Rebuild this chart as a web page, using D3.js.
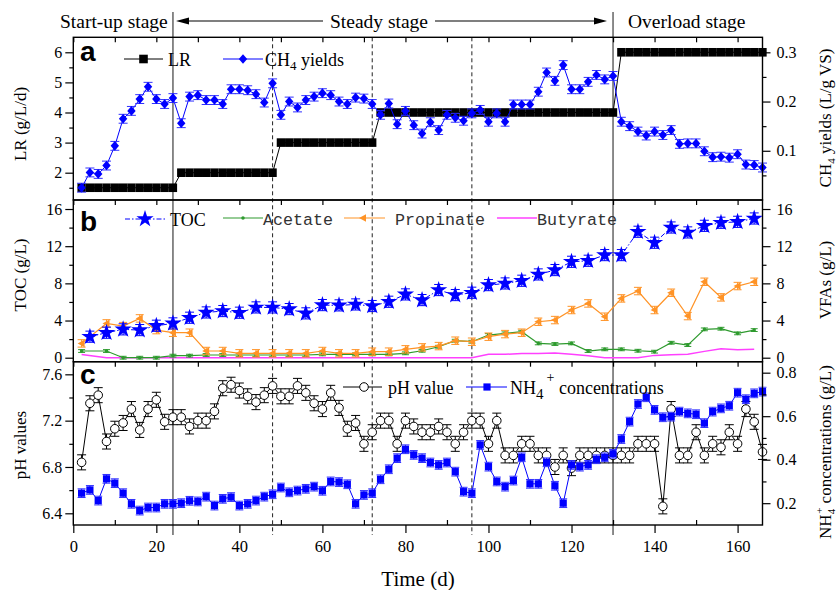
<!DOCTYPE html>
<html>
<head>
<meta charset="utf-8">
<script src="https://cdn.jsdelivr.net/npm/d3@7"></script>
<style>
  body { margin: 0; background: #fff; }
  svg { display: block; }
</style>
</head>
<body>
<svg id="chart" width="838" height="590"></svg>
<script>
// ---------- data ----------
// sampling days (every 2 days)
const sampleDays = d3.range(2, 167, 2);

// loading rate, g/L/d
const loadingRate = [
  1.5,1.5,1.5,1.5,1.5,1.5,1.5,1.5,1.5,1.5,1.5,1.5,
  2,2,2,2,2,2,2,2,2,2,2,2,
  3,3,3,3,3,3,3,3,3,3,3,3,
  4,4,4,4,4,4,4,4,4,4,4,4,4,4,4,4,4,4,4,4,4,4,4,4,4,4,4,4,4,
  6,6,6,6,6,6,6,6,6,6,6,6,6,6,6,6,6,6
];

// CH4 yields, L/g VS
const ch4Yield = [
  0.025,0.056,0.053,0.070,0.110,0.165,0.181,0.205,0.230,0.205,0.195,0.207,
  0.156,0.210,0.213,0.203,0.203,0.195,0.225,0.225,0.223,0.215,0.198,0.237,
  0.173,0.200,0.188,0.203,0.210,0.217,0.213,0.200,0.195,0.208,0.206,0.195,
  0.173,0.196,0.154,0.181,0.152,0.135,0.158,0.142,0.173,0.167,0.161,0.176,
  0.183,0.159,0.176,0.159,0.194,0.194,0.194,0.220,0.259,0.242,0.274,0.225,
  0.225,0.240,0.254,0.245,0.252,
  0.159,0.150,0.139,0.131,0.139,0.132,0.142,0.114,0.115,0.115,0.099,0.087,
  0.088,0.086,0.093,0.072,0.071,0.066
];
const ch4Err = 0.009;

// TOC, g/L (every 4 days)
const tocDays = d3.range(4, 165, 4);
const tocConc = [
  2.26,2.69,3.05,2.97,3.44,3.69,4.30,4.87,5.02,4.84,5.41,5.41,5.23,4.77,
  5.66,5.63,5.73,5.56,6.02,6.81,6.20,7.28,6.74,6.99,7.81,7.99,8.28,8.96,
  9.43,10.32,10.43,11.04,11.04,13.55,12.37,14.01,13.48,14.19,14.52,14.62,14.98
];
const tocErr = 0.6;

// VFAs, g/L
const vfaDays = [2].concat(d3.range(8, 165, 4));
const acetate = [
  0.72,0.72,0,0,0,0.22,0.22,0.29,0.29,0.29,0.29,0.29,0.29,0.29,
  0.36,0.36,0.36,0.36,0.36,0.47,0.75,1.18,1.83,1.72,2.44,2.62,2.80,1.54,
  1.47,1.54,0.72,0.90,0.90,0.75,0.65,1.61,1.36,3.05,3.12,2.62,2.97
];
const propionate = [
  1.54,3.69,3.40,4.23,2.97,2.69,2.69,0.72,0.72,0.47,0.47,0.47,0.47,0.47,
  0.72,0.47,0.47,0.65,0.65,0.90,1.11,1.25,1.83,1.72,2.26,2.54,2.69,3.87,
  4.05,5.13,5.84,4.41,6.38,7.17,5.13,6.99,4.48,8.17,6.49,7.71,8.17
];
const butyrate = [
  0.35,0,0,0,0,0,0,0,0,0,0,0,0,0,
  0,0,0,0,0,0,0,0,0,0,0.36,0.36,0.45,0.45,
  0.50,0.36,0.22,0,0,0,0.25,0.32,0.36,0.68,0.97,0.86,0.90
];
const acetateErr = 0.15, propionateErr = 0.4;

// pH
const phValue = [
  6.84,7.35,7.42,7.02,7.13,7.18,7.30,7.12,7.30,7.38,7.19,7.23,
  7.23,7.15,7.20,7.20,7.28,7.48,7.51,7.46,7.41,7.36,7.42,7.50,
  7.41,7.41,7.50,7.44,7.35,7.30,7.44,7.31,7.13,7.18,7.00,7.10,
  7.20,7.20,7.00,7.20,7.15,7.10,7.10,7.15,7.10,7.00,7.10,7.20,
  7.20,7.00,7.20,6.90,6.90,7.00,7.00,6.90,6.90,6.80,6.90,6.79,
  6.90,6.90,6.90,6.90,6.90,
  6.90,6.90,7.00,7.00,7.00,6.46,7.30,6.90,6.90,7.10,6.90,7.00,
  6.97,7.10,7.00,7.30,7.19,6.93
];
const phErr = 0.065;

// NH4+ concentrations, g/L
const nh4Conc = [
  0.246,0.261,0.212,0.312,0.292,0.246,0.197,0.166,0.180,0.180,0.197,0.197,
  0.200,0.211,0.208,0.230,0.189,0.220,0.228,0.189,0.197,0.212,0.230,0.241,
  0.272,0.250,0.258,0.266,0.276,0.257,0.300,0.297,0.287,0.197,0.238,0.246,
  0.310,0.356,0.407,0.448,0.422,0.407,0.387,0.376,0.387,0.345,0.253,0.246,
  0.468,0.368,0.300,0.276,0.304,0.411,0.289,0.289,0.388,0.280,0.200,0.376,
  0.368,0.376,0.402,0.411,0.427,
  0.495,0.575,0.656,0.687,0.629,0.595,0.598,0.621,0.613,0.609,0.568,0.621,
  0.636,0.648,0.708,0.678,0.705,0.713
];
const nh4Err = 0.02;

// stage boundaries (days)
const stageSolid = [24, 130];
const stageDashed = [48, 72, 96];

// tick values
const xMajor = [0, 20, 40, 60, 80, 100, 120, 140, 160];
const xMinor = [10, 30, 50, 70, 90, 110, 130, 150];
const xTop = d3.range(0, 161, 10);
const lrMajor = [2, 3, 4, 5, 6], lrMinor = [1.5, 2.5, 3.5, 4.5, 5.5];
const ch4Major = [0.1, 0.2, 0.3], ch4Minor = [0.05, 0.15, 0.25];
const concMajor = [0, 4, 8, 12, 16], concMinor = [2, 6, 10, 14];
const phMajor = [6.4, 6.8, 7.2, 7.6], phMinor = [6.6, 7.0, 7.4];
const nh4Major = [0.2, 0.4, 0.6, 0.8], nh4Minor = [0.3, 0.5, 0.7];

// ---------- setup ----------
const SERIF = "'Liberation Serif','Times New Roman',serif";
const SANS = "'Liberation Sans',Arial,sans-serif";
const MONO = "'Liberation Mono','Courier New',monospace";
const BLUE = "#0000ff", GREEN = "#2e9a2e", ORANGE = "#ff9326", MAGENTA = "#ff40ff";

const svg = d3.select("#chart");
const X0 = 73.3, X1 = 762.5;
const x = d3.scaleLinear().domain([0, 166]).range([X0, X1]);

const A = { top: 37.3, bottom: 200 };
const B = { top: 200, bottom: 361.7 };
const C = { top: 361.7, bottom: 525 };

const yLR = d3.scaleLinear().domain([1.093, 6.498]).range([A.bottom, A.top]);
const yCH4 = d3.scaleLinear().domain([0, 0.3305]).range([A.bottom, A.top]);
const yTOC = d3.scaleLinear().domain([-0.43, 16.97]).range([B.bottom, B.top]);
const yVFA = d3.scaleLinear().domain([-0.43, 16.97]).range([B.bottom, B.top]);
const yPH = d3.scaleLinear().domain([6.299, 7.709]).range([C.bottom, C.top]);
const yNH4 = d3.scaleLinear().domain([0.0997, 0.8505]).range([C.bottom, C.top]);

// ---------- stage lines ----------
const stageG = svg.append("g");
stageSolid.forEach(d => {
  stageG.append("line").attr("x1", x(d)).attr("x2", x(d)).attr("y1", 12).attr("y2", 535)
    .attr("stroke", "#6e6e6e").attr("stroke-width", 1.6);
});
stageDashed.forEach(d => {
  stageG.append("line").attr("x1", x(d)).attr("x2", x(d)).attr("y1", A.top).attr("y2", 535)
    .attr("stroke", "#222").attr("stroke-width", 1).attr("stroke-dasharray", "4,3");
});

// ---------- helpers ----------
function errorBars(g, xs, ys, err, xf, yf, color, cap) {
  const eg = g.append("g").attr("stroke", color).attr("stroke-width", 1).attr("fill", "none");
  xs.forEach((d, i) => {
    const cx = xf(d), y1 = yf(ys[i] + err), y2 = yf(ys[i] - err);
    eg.append("line").attr("x1", cx).attr("x2", cx).attr("y1", y1).attr("y2", y2);
    eg.append("line").attr("x1", cx - cap).attr("x2", cx + cap).attr("y1", y1).attr("y2", y1);
    eg.append("line").attr("x1", cx - cap).attr("x2", cx + cap).attr("y1", y2).attr("y2", y2);
  });
}
function seriesLine(g, xs, ys, xf, yf, color, width, dash) {
  const pts = xs.map((d, i) => [xf(d), yf(ys[i])]);
  const p = g.append("path").attr("d", d3.line()(pts)).attr("fill", "none")
    .attr("stroke", color).attr("stroke-width", width);
  if (dash) p.attr("stroke-dasharray", dash);
}
function markers(g, xs, ys, xf, yf, pathD, fill, stroke, sw) {
  g.append("g").selectAll("path").data(xs).join("path")
    .attr("d", pathD)
    .attr("transform", (d, i) => `translate(${xf(d)},${yf(ys[i])})`)
    .attr("fill", fill).attr("stroke", stroke || "none").attr("stroke-width", sw || 0);
}
const diamondD = "M0,-4.8L4.2,0L0,4.8L-4.2,0Z";
const squareNH4 = "M-3.6,-3.6h7.2v7.2h-7.2Z";
const starD = d3.symbol(d3.symbolStar, 92)();
const triLeftD = "M-4,0L3,-3.8L3,3.8Z";
const circleD = d3.symbol(d3.symbolCircle, 58)();

// ---------- panel a ----------
const ga = svg.append("g");
// LR step line and square markers
seriesLine(ga, sampleDays, loadingRate, x, yLR, "#000", 1);
const lrW = x(2) - x(0);
ga.append("g").selectAll("rect").data(sampleDays).join("rect")
  .attr("x", d => x(d) - lrW / 2).attr("width", lrW)
  .attr("y", (d, i) => yLR(loadingRate[i]) - 4.3).attr("height", 8.6)
  .attr("fill", "#000");
// CH4 yields
seriesLine(ga, sampleDays, ch4Yield, x, yCH4, BLUE, 1);
errorBars(ga, sampleDays, ch4Yield, ch4Err, x, yCH4, "#3030ff", 4.5);
markers(ga, sampleDays, ch4Yield, x, yCH4, diamondD, BLUE);

// ---------- panel b ----------
const gb = svg.append("g");
seriesLine(gb, vfaDays, butyrate, x, yVFA, MAGENTA, 1.5);
seriesLine(gb, vfaDays, acetate, x, yVFA, GREEN, 1.2);
errorBars(gb, vfaDays, acetate, acetateErr, x, yVFA, GREEN, 3.5);
markers(gb, vfaDays, acetate, x, yVFA, d3.symbol(d3.symbolCircle, 10)(), GREEN);
seriesLine(gb, vfaDays, propionate, x, yVFA, ORANGE, 1.2);
errorBars(gb, vfaDays, propionate, propionateErr, x, yVFA, ORANGE, 4);
markers(gb, vfaDays, propionate, x, yVFA, triLeftD, ORANGE);
seriesLine(gb, tocDays, tocConc, x, yTOC, BLUE, 1, "5,2,1.5,2");
errorBars(gb, tocDays, tocConc, tocErr, x, yTOC, BLUE, 4.5);
markers(gb, tocDays, tocConc, x, yTOC, starD, BLUE);

// ---------- panel c ----------
const gc = svg.append("g");
seriesLine(gc, sampleDays, phValue, x, yPH, "#000", 1);
errorBars(gc, sampleDays, phValue, phErr, x, yPH, "#000", 4.5);
markers(gc, sampleDays, phValue, x, yPH, circleD, "#fff", "#000", 1);
seriesLine(gc, sampleDays, nh4Conc, x, yNH4, BLUE, 1);
errorBars(gc, sampleDays, nh4Conc, nh4Err, x, yNH4, "#3030ff", 4);
markers(gc, sampleDays, nh4Conc, x, yNH4, squareNH4, BLUE);

// ---------- frames ----------
[A, B, C].forEach(p => {
  svg.append("rect").attr("x", X0).attr("y", p.top).attr("width", X1 - X0)
    .attr("height", p.bottom - p.top).attr("fill", "none")
    .attr("stroke", "#000").attr("stroke-width", 1.4);
});

// ---------- axes ----------
function styleAxis(g, size) {
  g.select(".domain").remove();
  g.selectAll("line").attr("stroke", "#000").attr("stroke-width", 1.2);
  g.selectAll("text").attr("font-family", SERIF).attr("font-size", size || 16).attr("fill", "#000");
}
function addAxis(axis, tx, ty, size) {
  const g = svg.append("g").attr("transform", `translate(${tx},${ty})`).call(axis);
  styleAxis(g, size);
  return g;
}
// top inward ticks for each panel
[A, B, C].forEach(p => {
  addAxis(d3.axisBottom(x).tickValues(xTop).tickSize(5).tickFormat(""), 0, p.top);
});
// bottom axis
addAxis(d3.axisBottom(x).tickValues(xMajor).tickSize(8).tickPadding(7).tickFormat(d3.format("d")), 0, C.bottom, 16.5);
addAxis(d3.axisTop(x).tickValues(xMinor).tickSize(5).tickFormat(""), 0, C.bottom);

// left axes; the "0" of panel b and the "7.6" of panel c sit close together
const leftSpec = [
  [yLR, lrMajor, lrMinor, d3.format("d")],
  [yTOC, concMajor, concMinor, d3.format("d")],
  [yPH, phMajor, phMinor, d3.format(".1f")]
];
leftSpec.forEach(([s, maj, min, f]) => {
  addAxis(d3.axisLeft(s).tickValues(maj).tickSize(8).tickPadding(3).tickFormat(f), X0, 0, 16);
  addAxis(d3.axisLeft(s).tickValues(min).tickSize(4).tickFormat(""), X0, 0);
});
// right axes
const rightSpec = [
  [yCH4, ch4Major, ch4Minor, d3.format(".1f")],
  [yVFA, concMajor, concMinor, d3.format("d")],
  [yNH4, nh4Major, nh4Minor, d3.format(".1f")]
];
rightSpec.forEach(([s, maj, min, f]) => {
  addAxis(d3.axisRight(s).tickValues(maj).tickSize(8).tickPadding(6).tickFormat(f), X1, 0, 16);
  addAxis(d3.axisRight(s).tickValues(min).tickSize(4).tickFormat(""), X1, 0);
});

// ---------- text helpers ----------
function richText(parent, parts, attrs) {
  const t = parent.append("text");
  Object.entries(attrs).forEach(([k, v]) => t.attr(k, v));
  parts.forEach(p => {
    const s = t.append("tspan").text(p.t);
    if (p.dy) s.attr("dy", p.dy);
    if (p.size) s.attr("font-size", p.size);
    if (p.dx) s.attr("dx", p.dx);
  });
  return t;
}

// axis titles
const titleAttrs = { "font-family": SERIF, "font-size": 17, "text-anchor": "middle", fill: "#000" };
function leftTitle(parts, cy) {
  richText(svg, parts, Object.assign({}, titleAttrs, { transform: `translate(26,${cy}) rotate(-90)` }));
}
function rightTitle(parts, cy) {
  richText(svg, parts, Object.assign({}, titleAttrs, { transform: `translate(831,${cy}) rotate(-90)` }));
}
leftTitle([{ t: "LR (g/L/d)" }], 124);
leftTitle([{ t: "TOC (g/L)" }], 275);
leftTitle([{ t: "pH values" }], 445);
rightTitle([{ t: "CH" }, { t: "4", dy: 4, size: 11 }, { t: " yields (L/g VS)", dy: -4 }], 118);
rightTitle([{ t: "VFAs (g/L)" }], 280);
rightTitle([{ t: "NH" }, { t: "4", dy: 4, size: 11 }, { t: "+", dy: -12, dx: -5, size: 11 },
  { t: " concentrations (g/L)", dy: 8 }], 452);

svg.append("text").attr("x", 418).attr("y", 586).attr("text-anchor", "middle")
  .attr("font-family", SERIF).attr("font-size", 21).text("Time (d)");

// panel letters
[["a", 61], ["b", 231], ["c", 384]].forEach(([l, yb]) => {
  svg.append("text").attr("x", 80).attr("y", yb).attr("font-family", SANS)
    .attr("font-weight", "bold").attr("font-size", 28).text(l);
});

// ---------- stage header ----------
const hdr = { "font-family": SERIF, "font-size": 19.5, fill: "#000" };
richText(svg, [{ t: "Start-up stage" }], Object.assign({ x: 60, y: 28 }, hdr));
richText(svg, [{ t: "Steady stage" }], Object.assign({ x: 330, y: 28 }, hdr));
richText(svg, [{ t: "Overload stage" }], Object.assign({ x: 628, y: 28 }, hdr));
svg.append("line").attr("x1", 186).attr("x2", 323).attr("y1", 21).attr("y2", 21)
  .attr("stroke", "#000").attr("stroke-width", 1.2);
svg.append("path").attr("d", "M176,21L189,17.5L189,24.5Z").attr("fill", "#000");
svg.append("line").attr("x1", 435).attr("x2", 596).attr("y1", 21).attr("y2", 21)
  .attr("stroke", "#000").attr("stroke-width", 1.2);
svg.append("path").attr("d", "M607,21L594,17.5L594,24.5Z").attr("fill", "#000");

// ---------- legends ----------
function legendLine(x1, x2, y, color, dash, width) {
  const l = svg.append("line").attr("x1", x1).attr("x2", x2).attr("y1", y).attr("y2", y)
    .attr("stroke", color).attr("stroke-width", width || 1);
  if (dash) l.attr("stroke-dasharray", dash);
}
function legendMark(cx, cy, d, fill, stroke) {
  svg.append("path").attr("d", d).attr("transform", `translate(${cx},${cy})`)
    .attr("fill", fill).attr("stroke", stroke || "none").attr("stroke-width", 1);
}
const legSerif = { "font-family": SERIF, "font-size": 18, fill: "#000" };
const legMono = { "font-family": MONO, "font-size": 16.7, fill: "#333" };

// panel a
legendLine(124, 163, 59, "#000");
legendMark(143.5, 59, "M-4.3,-4.3h8.6v8.6h-8.6Z", "#000");
richText(svg, [{ t: "LR" }], Object.assign({ x: 168, y: 65.5 }, legSerif));
legendLine(223, 263, 59, BLUE);
legendMark(243, 59, diamondD, BLUE);
richText(svg, [{ t: "CH" }, { t: "4", dy: 4, size: 13 }, { t: " yields", dy: -4 }],
  Object.assign({ x: 265, y: 65.5 }, legSerif));

// panel b
legendLine(125, 167, 219, BLUE, "5,2,1.5,2");
legendMark(145, 219, starD, BLUE);
richText(svg, [{ t: "TOC" }], Object.assign({ x: 170, y: 225.5 }, legSerif));
legendLine(223, 263, 218, GREEN, null, 1.2);
legendMark(243, 218, d3.symbol(d3.symbolCircle, 10)(), GREEN);
richText(svg, [{ t: "Acetate" }], Object.assign({ x: 263, y: 224.5 }, legMono));
legendLine(344, 385, 218, ORANGE, null, 1.2);
legendMark(363, 218, triLeftD, ORANGE);
richText(svg, [{ t: "Propinate" }], Object.assign({ x: 395, y: 224.5 }, legMono));
legendLine(497, 537, 218, MAGENTA, null, 1.5);
richText(svg, [{ t: "Butyrate" }], Object.assign({ x: 537, y: 224.5 }, legMono));

// panel c
legendLine(343, 382, 387, "#000");
legendMark(364, 387, circleD, "#fff", "#000");
richText(svg, [{ t: "pH value" }], Object.assign({ x: 388, y: 393.5 }, legSerif));
legendLine(466, 507, 387, BLUE);
legendMark(487, 387, squareNH4, BLUE);
richText(svg, [{ t: "NH" }, { t: "4", dy: 5, size: 15 }, { t: "+", dy: -17, dx: 3, size: 14 },
  { t: " concentrations", dy: 12 }], Object.assign({ x: 510, y: 393.5 }, legSerif));
</script>
</body>
</html>
